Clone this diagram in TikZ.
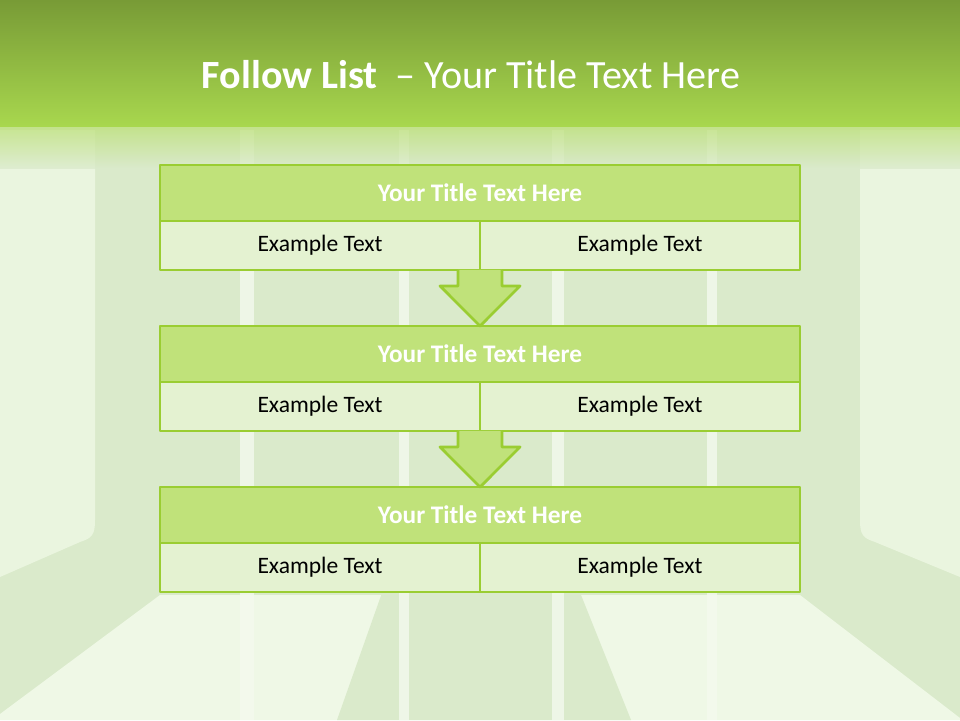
\documentclass[tikz,border=0pt]{standalone}
\usepackage{fontspec}
\setmainfont{Carlito}
\usetikzlibrary{calc}
\definecolor{leaf}{HTML}{9ACD32}
\definecolor{headfill}{HTML}{C0E27A}
\definecolor{cellfill}{HTML}{E4F2D1}
\definecolor{wallback}{HTML}{DAEACB}
\definecolor{wallside}{HTML}{EAF5DF}
\definecolor{floorlight}{HTML}{EFF8E6}
\definecolor{stripe}{HTML}{F4FAEE}
\definecolor{bandtop}{HTML}{789B36}
\definecolor{bandbot}{HTML}{A8D74E}
\begin{document}
\begin{tikzpicture}[x=0.02cm,y=-0.02cm,line join=round,
	head/.style={draw=leaf,fill=headfill,line width=1.6pt,outer sep=0pt,minimum width=12.8cm,minimum height=1.12cm,inner sep=0pt,text=white,font=\bfseries\fontsize{14.4}{17}\selectfont},
	cell/.style={draw=leaf,fill=cellfill,line width=1.6pt,outer sep=0pt,minimum width=6.4cm,minimum height=0.98cm,inner sep=0pt,font=\fontsize{13.4}{16}\selectfont},
	flow/.style={draw=leaf,fill=headfill,line width=1.6pt}]
	% room behind the list
	\fill[wallback] (0,0) rectangle (960,720);
	\fill[wallside] (0,130) -- (95,130) -- (95,520) .. controls (95,535) and (92,538) .. (80,542) -- (0,577) -- cycle;
	\fill[wallside] (960,130) -- (860,130) -- (860,520) .. controls (860,535) and (863,538) .. (875,542) -- (960,577) -- cycle;
	\fill[floorlight] (0,714) -- (160,595) -- (800,595) -- (960,718) -- (960,720) -- (0,720) -- cycle;
	\fill[wallback] (383,590) -- (579,590) -- (631,720) -- (337,720) -- cycle;
	\foreach \sx/\sw in {240/14,399/10,552/12,707/10}
		\fill[stripe,opacity=.8] (\sx,130) rectangle ++(\sw,590);
	\shade[top color=bandbot!80!white,bottom color=wallback,opacity=.75] (0,124) rectangle (960,168);
	\shade[top color=bandtop,bottom color=bandbot] (0,0) rectangle (960,126);
	\node[text=white,font=\fontsize{22.8}{26}\selectfont] (title) at (471,75) {\textbf{Follow List} \ -- Your Title Text Here};
	% the three steps
	\foreach \i/\y in {1/165,2/326,3/487}{
		\node[head] (head\i) at (480,\y+28) {Your Title Text Here};
		\node[cell,anchor=north west] (left\i) at (head\i.south west) {Example Text};
		\node[cell,anchor=north west] (right\i) at (head\i.south) {Example Text};
	}
	\foreach \i/\j in {1/2,2/3}
		\draw[flow] ($(left\i.south east)+(-22,0)$) -- ++(0,16) -- ++(-18,0) -- (head\j.north)
			-- ($(left\i.south east)+(40,16)$) -- ++(-18,0) -- ++(0,-16);
\end{tikzpicture}
\end{document}
